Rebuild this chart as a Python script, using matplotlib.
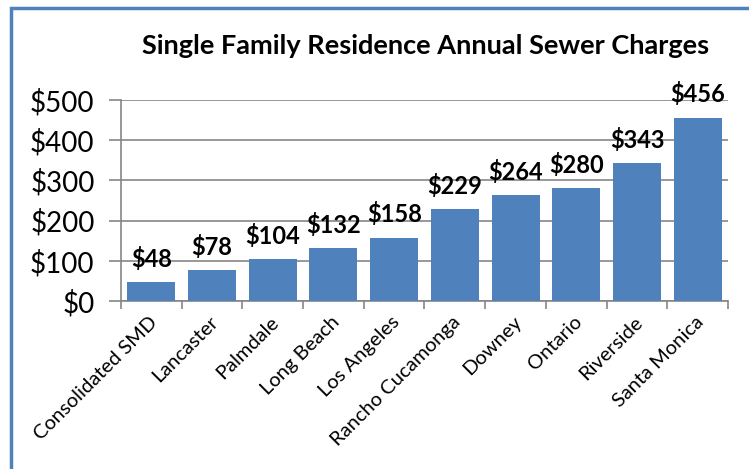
import numpy as np
import matplotlib
matplotlib.use("Agg")
import matplotlib.pyplot as plt
import matplotlib.transforms as mtransforms
from matplotlib.patches import Rectangle

cities = ["Consolidated SMD", "Lancaster", "Palmdale", "Long Beach", "Los Angeles",
          "Rancho Cucamonga", "Downey", "Ontario", "Riverside", "Santa Monica"]
charges = [48, 78, 104, 132, 158, 229, 264, 280, 343, 456]
yticks = [0, 100, 200, 300, 400, 500]

plt.rcParams['font.family'] = ['Lato', 'DejaVu Sans']

fig = plt.figure(figsize=(7.49, 4.69), dpi=100)
ax = fig.add_axes([0.1615, 0.358, 0.8105, 0.429])

x = np.arange(len(cities))
bars = ax.bar(x, charges, width=0.79, color="#4F81BD", zorder=3)

for xi, v in zip(x, charges):
    ax.annotate("$%d" % v, (xi, v), xytext=(0, 8), textcoords="offset points",
                ha="center", va="bottom", fontsize=17, fontweight="bold", zorder=4)

ax.set_xlim(-0.5, len(cities) - 0.5)
ax.set_ylim(0, 500)
ax.set_yticks(yticks)
ax.set_yticklabels(["$%d" % t for t in yticks], fontsize=20)
ax.yaxis.grid(True, color="#868686", linewidth=1.2, zorder=0)

# category ticks at boundaries, labels at centres
ax.set_xticks(np.arange(-0.5, len(cities)), minor=False)
ax.set_xticklabels([])
ax.set_xticks(x, minor=True)
ax.set_xticklabels(cities, minor=True, rotation=45, ha="right", va="center",
                   rotation_mode="anchor", fontsize=14.5)
ax.tick_params(axis="x", which="minor", length=0, pad=13)
ax.tick_params(axis="x", which="major", length=6, color="#868686", width=1.2)
ax.tick_params(axis="y", length=9, color="#868686", width=1.2, pad=10)

shift = mtransforms.ScaledTranslation(3 / 100, 0, fig.dpi_scale_trans)
for lab in ax.get_xticklabels(minor=True):
    lab.set_transform(lab.get_transform() + shift)

for s in ["top", "right"]:
    ax.spines[s].set_visible(False)
ax.spines["left"].set_color("#868686")
ax.spines["bottom"].set_color("#868686")
ax.spines["left"].set_linewidth(1.2)
ax.spines["bottom"].set_linewidth(1.2)

fig.text(0.568, 0.902, "Single Family Residence Annual Sewer Charges",
         ha="center", va="center", fontsize=19.5, fontweight="bold")

# outer chart border
fig.patches.append(Rectangle((11 / 749, -0.1), 1.0, 1.1 - 8 / 469,
                             transform=fig.transFigure, fill=False,
                             edgecolor="#4F81BD", linewidth=2.5))

fig.savefig("out.png", dpi=100)
